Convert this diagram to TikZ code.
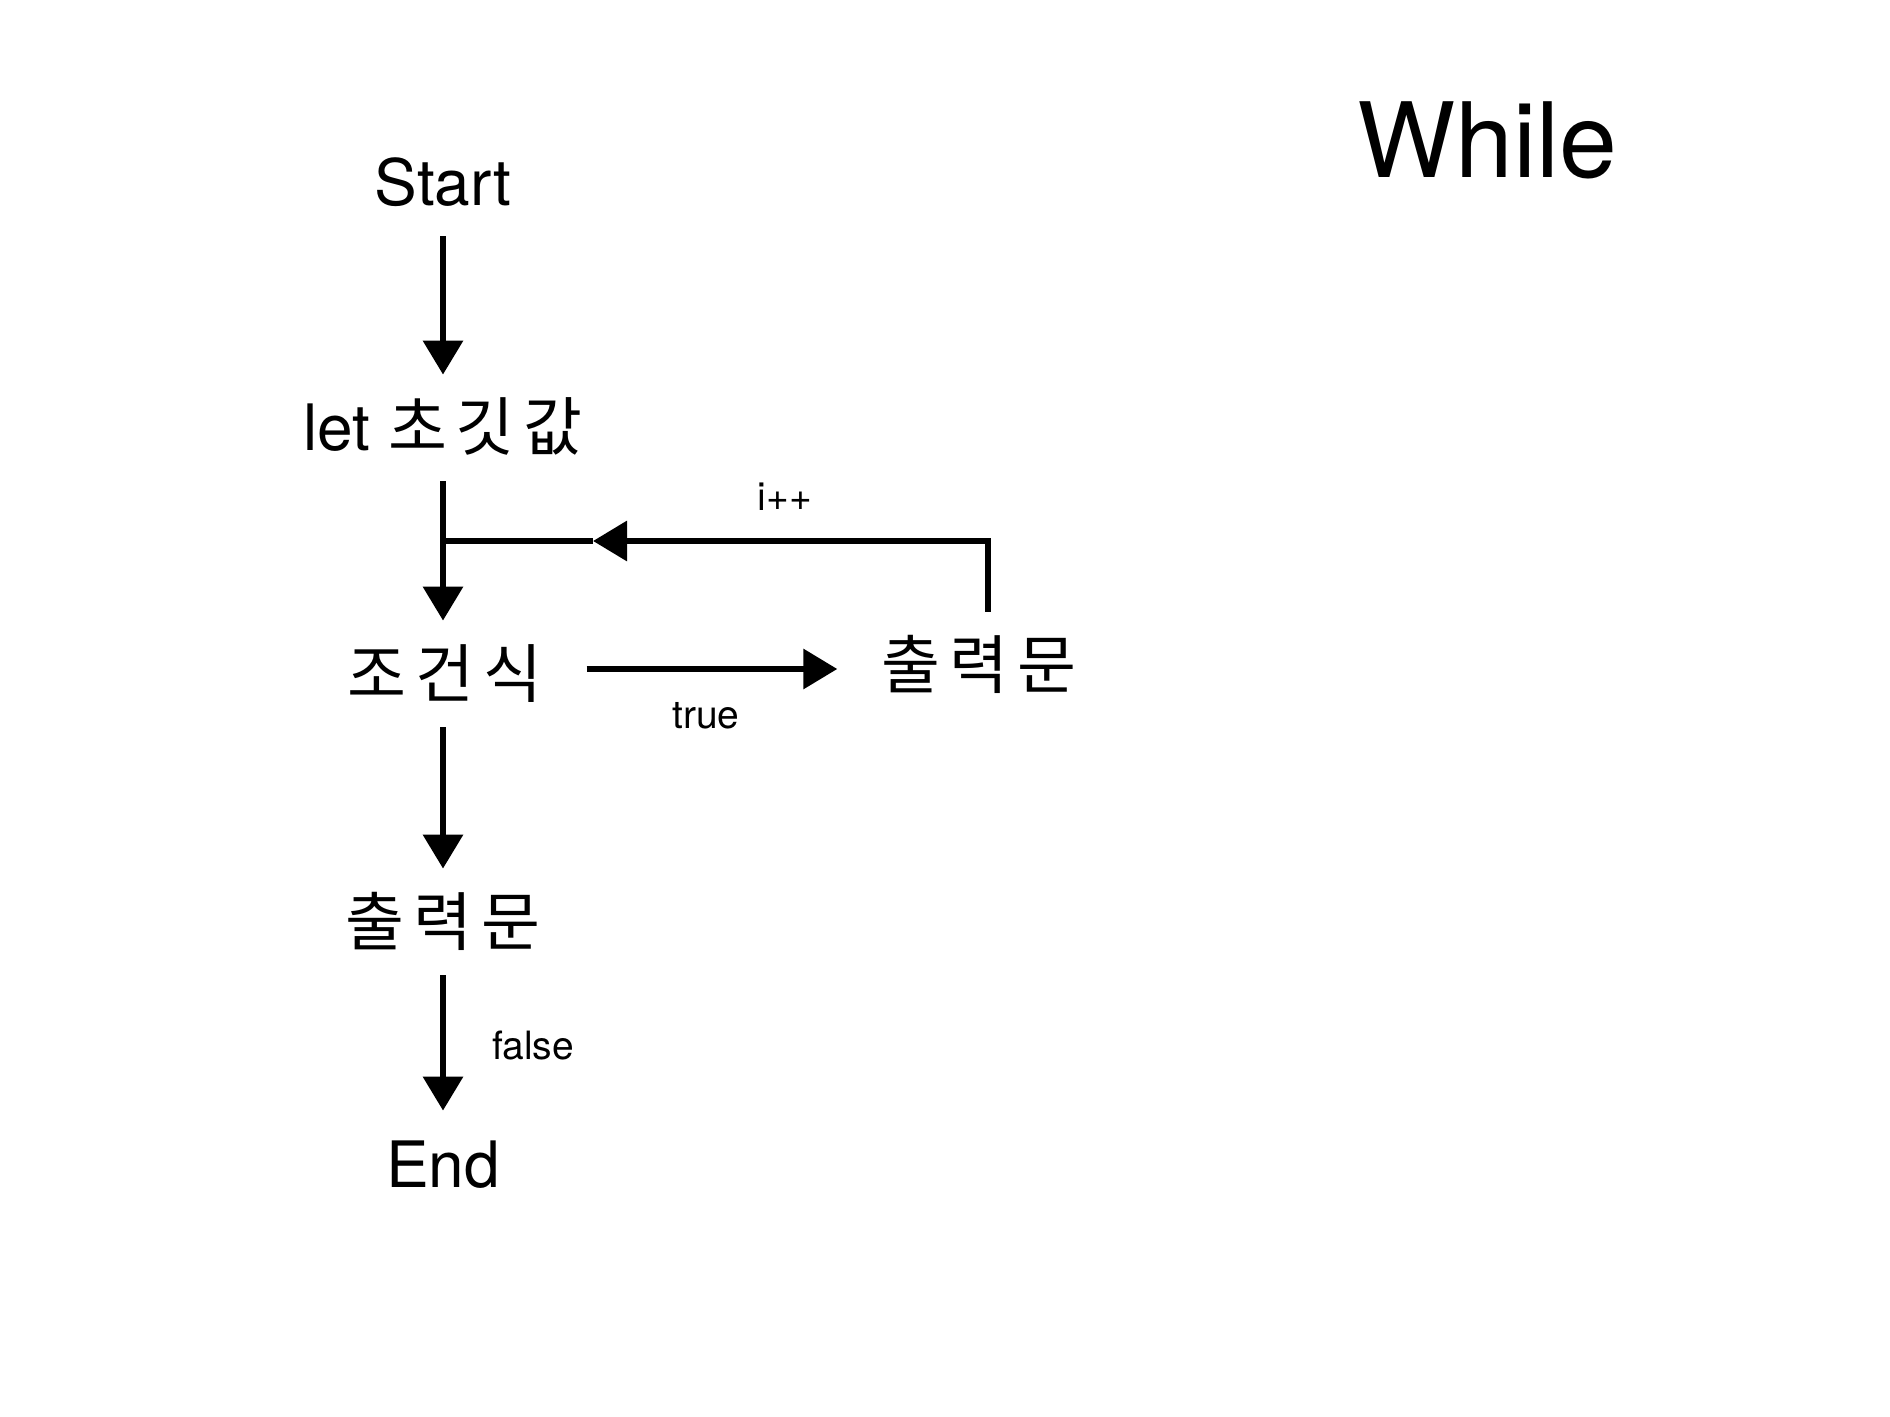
\documentclass[tikz,border=0pt]{standalone}
\usepackage{fontspec}
\setmainfont{TeX Gyre Heros}
\newfontfamily\kr[LetterSpace=14]{Noto Sans CJK KR}
\usetikzlibrary{arrows.meta}
\tikzset{
  x=0.5pt, y=-0.5pt,
  mainbox/.style={inner sep=0pt, inner xsep=22pt, minimum height=53pt, text height=23pt, text depth=0pt, font=\fontsize{32}{38}\selectfont},
  smalllbl/.style={inner sep=0pt, font=\fontsize{19.5}{24}\selectfont},
  conn/.style={line width=3.2pt},
  arr/.style={line width=3.2pt, -{Triangle[length=17pt,width=19.5pt]}},
}
\begin{document}
\begin{tikzpicture}
\useasboundingbox (0,0) rectangle (1890,1417);
\node[inner sep=0pt, font=\fontsize{52}{60}\selectfont] (title) at (1487,140) {While};
\node[mainbox] (start) at (443,183) {Start};
\node[mainbox] (init) at (443,428) {let {\kr 초깃값}};
\node[mainbox] (cond) at (445,674) {\kr 조건식};
\node[mainbox] (outR) at (979,665) {\kr 출력문};
\node[mainbox] (outB) at (443,922) {\kr 출력문};
\node[mainbox] (end) at (443,1164) {End};
\node[smalllbl] (ipp) at (785,497) {i++};
\node[smalllbl] (tru) at (706,716) {true};
\node[smalllbl] (fal) at (533,1046) {false};
\coordinate (join) at (443,541);
\coordinate (mid) at (593,541);
\draw[arr] (start.south) -- (init.north);
\draw[arr] (init.south) -- (init.south |- cond.north);
\draw[arr] ([yshift=2.5pt]cond.east) -- ([yshift=2.5pt]cond.east -| outR.west);
\draw[arr] ([xshift=4.5pt]outR.north) |- (mid);
\draw[conn] (mid) -- (join);
\draw[arr] (outB.north |- cond.south) -- (outB.north);
\draw[arr] (outB.south) -- (end.north);
\end{tikzpicture}
\end{document}
